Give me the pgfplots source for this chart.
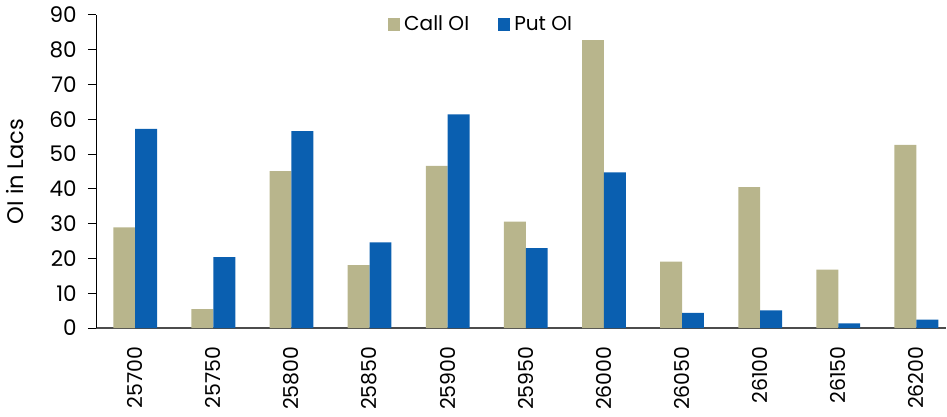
\documentclass[border=0pt]{standalone}
\usepackage{pgfplots}
\pgfplotsset{compat=1.18}
\usepackage{fontspec}
\setmainfont{Poppins}
\definecolor{callc}{HTML}{B8B58C}
\definecolor{putc}{HTML}{0A5FB0}
\begin{document}
\begin{tikzpicture}
\begin{axis}[
  scale only axis,
  width=415pt, height=153pt,
  ybar=0pt, bar width=10.7pt,
  xmin=-0.5, xmax=10.38,
  ymin=0, ymax=90,
  ytick={0,10,...,90},
  xtick=data,
  xticklabels={25700,25750,25800,25850,25900,25950,26000,26050,26100,26150,26200},
  x tick label style={rotate=90, anchor=east, font=\fontsize{10}{11}\selectfont},
  y tick label style={font=\fontsize{10.5}{11}\selectfont},
  xticklabel shift=1.5pt,
  yticklabel shift=2pt,
  /pgf/number format/assume math mode=true,
  axis x line*=bottom, axis y line*=left,
  x axis line style={draw=black!70, line width=0.9pt, -},
  y axis line style={draw=black, line width=0.5pt, -},
  xtick style={draw=none},
  ytick style={draw=black, line width=0.5pt},
  tick align=outside, major tick length=4pt,
  ylabel={OI in Lacs},
  ylabel style={font=\fontsize{11}{12}\selectfont, yshift=5.5pt},
  legend style={at={(0.454,1.025)}, anchor=north, draw=none, fill=none,
    legend columns=2, font=\fontsize{9.8}{10}\selectfont,
    /tikz/every even column/.append style={column sep=12pt}},
  legend image code/.code={\fill[#1] (0pt,-3pt) rectangle (6pt,3pt);},
]
\addplot[fill=callc, draw=none] coordinates {
(0,28.9) (1,5.45) (2,45.1) (3,18.1) (4,46.6) (5,30.6) (6,82.7) (7,19.1) (8,40.5) (9,16.8) (10,52.6)};
\addplot[fill=putc, draw=none] coordinates {
(0,57.2) (1,20.4) (2,56.6) (3,24.6) (4,61.4) (5,23.0) (6,44.7) (7,4.4) (8,5.1) (9,1.35) (10,2.4)};
\legend{Call OI, Put OI}
\end{axis}
\end{tikzpicture}
\end{document}
